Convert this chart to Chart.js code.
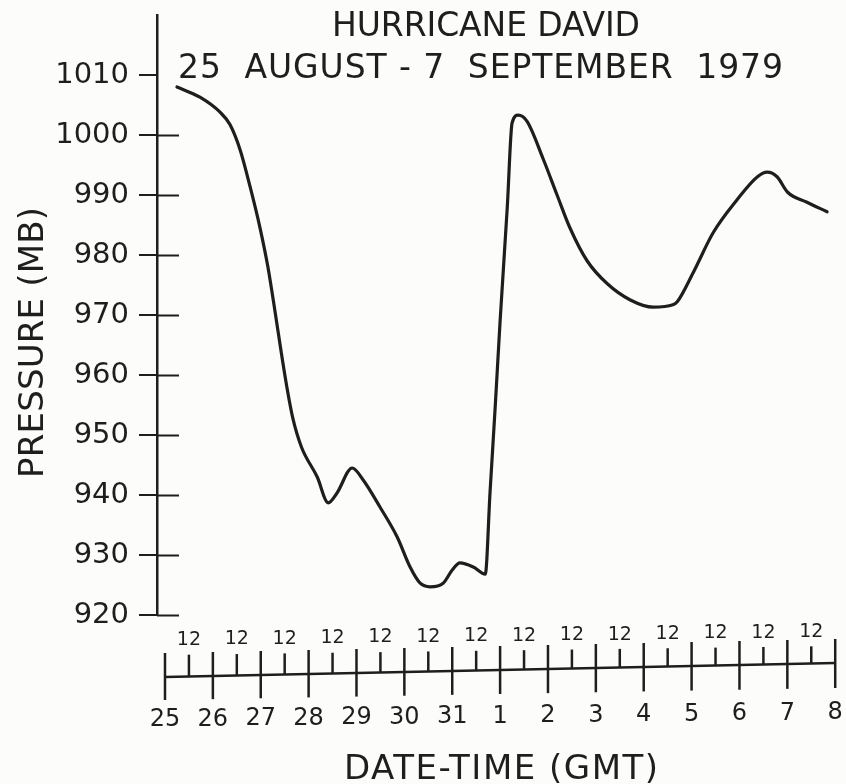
<!DOCTYPE html>
<html>
<head>
<meta charset="utf-8">
<script src="https://cdn.jsdelivr.net/npm/chart.js@4.4.1/dist/chart.umd.min.js"></script>
<style>
  html, body { margin: 0; padding: 0; background: #fcfcfb; }
  #wrap { width: 846px; height: 784px; position: relative; }
</style>
</head>
<body>
<div id="wrap"><canvas id="chart"></canvas></div>
<script>
// days after 25 Aug 1979 00 GMT and the central pressure (mb)
const dayOffsets = [0.25, 0.73, 1.15, 1.36, 1.57, 1.78, 1.98, 2.15, 2.30, 2.42, 2.55, 2.67, 2.85, 3.18, 3.41,
  3.59, 3.91, 4.14, 4.49, 4.85, 5.12, 5.33, 5.54, 5.81, 6.00, 6.16, 6.44, 6.69, 6.79, 6.90, 7.00, 7.15, 7.25, 7.38,
  7.56, 7.90, 8.19, 8.46, 8.82, 9.24, 9.72, 10.20, 10.61, 10.70, 11.03, 11.45, 11.95, 12.37, 12.58,
  12.79, 13.00, 13.41, 13.83];
const pressures = [1008.0, 1006.3, 1003.8, 1001.7, 997.5, 991.3, 984.7, 978.0, 970.5, 964.2, 957.8, 952.8, 948.0, 943.0, 938.7,
  940.3, 944.5, 942.5, 938.0, 933.0, 928.0, 925.3, 924.7, 925.3, 927.5, 928.7, 928.0, 926.8, 940.5, 955.0, 969.0, 988.0, 1002.0, 1003.3,
  1002.3, 996.0, 990.0, 984.5, 979.0, 975.2, 972.5, 971.3, 971.7, 972.2, 977.0, 983.7, 989.2, 993.0, 993.8,
  993.0, 990.5, 988.8, 987.2];

const dayLabels = ["25", "26", "27", "28", "29", "30", "31", "1", "2", "3", "4", "5", "6", "7", "8"];
const halfDayLabel = "12";
const pressureTicks = [920, 930, 940, 950, 960, 970, 980, 990, 1000, 1010];

const titleLines = ["HURRICANE DAVID", "25  AUGUST - 7  SEPTEMBER  1979"];
const yTitle = "PRESSURE (MB)";
const xTitle = "DATE-TIME (GMT)";

const FONT = '"DejaVu Sans", sans-serif';
const INK = "#1e1e1e";

// draws text starting at x, stretched with letter spacing to a given width
function spreadText(ctx, text, x, y, width) {
  ctx.letterSpacing = "0px";
  const natural = ctx.measureText(text).width;
  const gap = (width - natural) / (text.length - 1);
  ctx.letterSpacing = gap + "px";
  ctx.textAlign = "left";
  ctx.fillText(text, x, y);
  ctx.letterSpacing = "0px";
}

const decorations = {
  id: "decorations",
  afterDraw(chart) {
    const ctx = chart.ctx;
    const xs = chart.scales.x;
    const ys = chart.scales.y;
    const area = chart.chartArea;
    ctx.save();
    ctx.fillStyle = INK;
    ctx.strokeStyle = INK;
    ctx.textBaseline = "alphabetic";

    // right half of the pressure ticks
    ctx.lineWidth = 2;
    pressureTicks.filter(v => v < 1010).forEach(v => {
      const y = Math.round(ys.getPixelForValue(v)) + 0.5;
      ctx.beginPath();
      ctx.moveTo(area.left, y);
      ctx.lineTo(area.left + 22, y);
      ctx.stroke();
    });

    // title
    ctx.font = "33px " + FONT;
    spreadText(ctx, titleLines[0], 332, 36, 308);
    spreadText(ctx, titleLines[1], 178, 78, 605);

    // y title
    ctx.save();
    ctx.translate(43, 478);
    ctx.rotate(-Math.PI / 2);
    ctx.font = "34px " + FONT;
    spreadText(ctx, yTitle, 0, 0, 271);
    ctx.restore();

    // date-time strip (the scan is a little tilted, so y drifts from left to right)
    const x0 = xs.getPixelForValue(0);
    const x1 = xs.getPixelForValue(dayLabels.length - 1);
    const drift = (x, a, b) => a + (b - a) * (x - x0) / (x1 - x0);

    ctx.lineWidth = 2.5;
    ctx.beginPath();
    ctx.moveTo(x0, drift(x0, 677, 663));
    ctx.lineTo(x1, drift(x1, 677, 663));
    ctx.stroke();

    for (let i = 0; i < dayLabels.length * 2 - 1; i++) {
      const d = i / 2;
      const x = xs.getPixelForValue(d);
      const base = drift(x, 677, 663);
      ctx.beginPath();
      if (i % 2 === 0) {
        ctx.moveTo(x, drift(x, 653, 639));
        ctx.lineTo(x, drift(x, 700, 688));
      } else {
        ctx.moveTo(x, drift(x, 655, 646));
        ctx.lineTo(x, base);
      }
      ctx.stroke();
    }

    ctx.textAlign = "center";
    ctx.textBaseline = "middle";
    ctx.font = "24px " + FONT;
    dayLabels.forEach((lab, i) => {
      const x = xs.getPixelForValue(i);
      ctx.fillText(lab, x, drift(x, 720, 713));
    });
    ctx.font = "19px " + FONT;
    for (let i = 0; i < dayLabels.length - 1; i++) {
      const x = xs.getPixelForValue(i + 0.5);
      ctx.fillText(halfDayLabel, x, drift(x, 640, 632));
    }

    ctx.textBaseline = "alphabetic";
    ctx.font = "34px " + FONT;
    spreadText(ctx, xTitle, 344, 779, 314);
    ctx.restore();
  }
};

new Chart(document.getElementById("chart"), {
  type: "line",
  data: {
    datasets: [{
      data: dayOffsets.map((d, i) => ({ x: d, y: pressures[i] })),
      borderColor: INK,
      borderWidth: 3.2,
      borderCapStyle: "round",
      borderJoinStyle: "round",
      pointRadius: 0,
      fill: false,
      cubicInterpolationMode: "monotone"
    }]
  },
  options: {
    responsive: true,
    maintainAspectRatio: false,
    animation: false,
    layout: { padding: { top: 15, right: 6, bottom: 169, left: 0 } },
    scales: {
      x: { type: "linear", min: -0.167, max: 14.10, display: false },
      y: {
        type: "linear",
        min: 920,
        max: 1020,
        afterBuildTicks: s => { s.ticks = pressureTicks.map(v => ({ value: v })); },
        afterFit: s => { s.width = 157; s.paddingTop = 0; s.paddingBottom = 0; },
        grid: { drawOnChartArea: false, drawTicks: true, tickLength: 18, color: INK, lineWidth: 2 },
        border: { display: true, color: INK, width: 2.5 },
        ticks: { color: INK, padding: 10, font: { family: FONT, size: 29 }, callback: v => String(v) },
        title: { display: false }
      }
    },
    plugins: { legend: { display: false }, tooltip: { enabled: false } }
  },
  plugins: [decorations]
});
</script>
</body>
</html>
